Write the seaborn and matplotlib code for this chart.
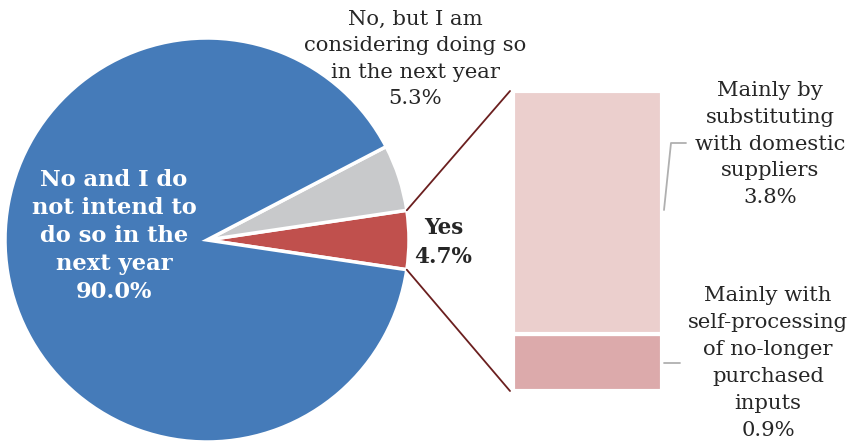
import matplotlib
matplotlib.use("Agg")
import matplotlib.pyplot as plt
from matplotlib.patches import ConnectionPatch
import seaborn as sns
import numpy as np

sns.set_theme(style="white")
plt.rcParams["font.family"] = ["DejaVu Serif"]

# Pie: share of firms replacing imported inputs
pie_labels = ["Yes", "No, but I am\nconsidering doing so\nin the next year",
              "No and I do\nnot intend to\ndo so in the\nnext year"]
pie_values = [4.7, 5.3, 90.0]
pie_colors = ["#c0504d", "#c8c9cb", "#457bb9"]

# Breakdown of the "Yes" share
bar_labels = ["Mainly with\nself-processing\nof no-longer\npurchased\ninputs",
              "Mainly by\nsubstituting\nwith domestic\nsuppliers"]
bar_values = [0.9, 3.8]
bar_colors = ["#dcaaab", "#ebcfcd"]

text_color = "#262626"
fs = 15.2
W, H = 856, 446
fig = plt.figure(figsize=(W / 100, H / 100), dpi=100)

# pie axes: centre (207, 240) px, radius 202 px
cx, cy, r = 207, 240, 202
ax = fig.add_axes([(cx - r) / W, (H - cy - r) / H, 2 * r / W, 2 * r / H])
start = -pie_values[0] * 3.6 / 2
wedges, _ = ax.pie(pie_values, colors=pie_colors, startangle=start,
                   counterclock=True, radius=1,
                   wedgeprops=dict(edgecolor="white", linewidth=2.5))
ax.set_xlim(-1, 1)
ax.set_ylim(-1, 1)
ax.set_aspect("equal")
ax.axis("off")

ax.text(-0.46, 0.02, f"{pie_labels[2]}\n{pie_values[2]:.1f}%", ha="center", va="center",
        color="white", fontweight="bold", fontsize=16.3, linespacing=1.34)
ax.text(1.17, -0.012, f"{pie_labels[0]}\n{pie_values[0]:.1f}%", ha="center", va="center",
        color=text_color, fontweight="bold", fontsize=15.5, linespacing=1.39)
ax.text(1.03, 0.896, f"{pie_labels[1]}\n{pie_values[1]:.1f}%", ha="center", va="center",
        color=text_color, fontsize=fs, linespacing=1.51, clip_on=False)

# stacked bar axes: x 513..662 px, y 91..391 px
bx0, bx1, by0, by1 = 513, 662, 91, 391
bax = fig.add_axes([bx0 / W, (H - by1) / H, (bx1 - bx0) / W, (by1 - by0) / H])
bottom = 0.0
for v, c in zip(bar_values, bar_colors):
    bax.bar(0, v, width=1.0, bottom=bottom, color=c, edgecolor="white", linewidth=3)
    bottom += v
total = sum(bar_values)
bax.set_xlim(-0.5, 0.5)
bax.set_ylim(0, total)
bax.axis("off")

# connectors from the "Yes" wedge to the bar
theta = np.deg2rad(pie_values[0] * 3.6 / 2)
for sgn, yb in [(1, total), (-1, 0)]:
    con = ConnectionPatch(xyA=(np.cos(theta), sgn * np.sin(theta)), coordsA=ax.transData,
                          xyB=(-0.52, yb), coordsB=bax.transData,
                          color="#6b1f1f", linewidth=1.3)
    fig.add_artist(con)

# bar labels with leader lines (figure pixel positions)
def fx(x):
    return x / W

def fy(y):
    return (H - y) / H

fig.text(fx(770), fy(144), f"{bar_labels[1]}\n{bar_values[1]:.1f}%", ha="center", va="center",
         color=text_color, fontsize=fs, linespacing=1.53)
fig.text(fx(768), fy(363), f"{bar_labels[0]}\n{bar_values[0]:.1f}%", ha="center", va="center",
         color=text_color, fontsize=fs, linespacing=1.53)

lead = "#b0b0b0"
fig.add_artist(plt.Line2D([fx(664), fx(671), fx(686)], [fy(210), fy(143), fy(143)],
                          color=lead, linewidth=1.3))
fig.add_artist(plt.Line2D([fx(664), fx(680)], [fy(363), fy(363)], color=lead, linewidth=1.3))

fig.savefig("out.png", dpi=100, facecolor="white")
